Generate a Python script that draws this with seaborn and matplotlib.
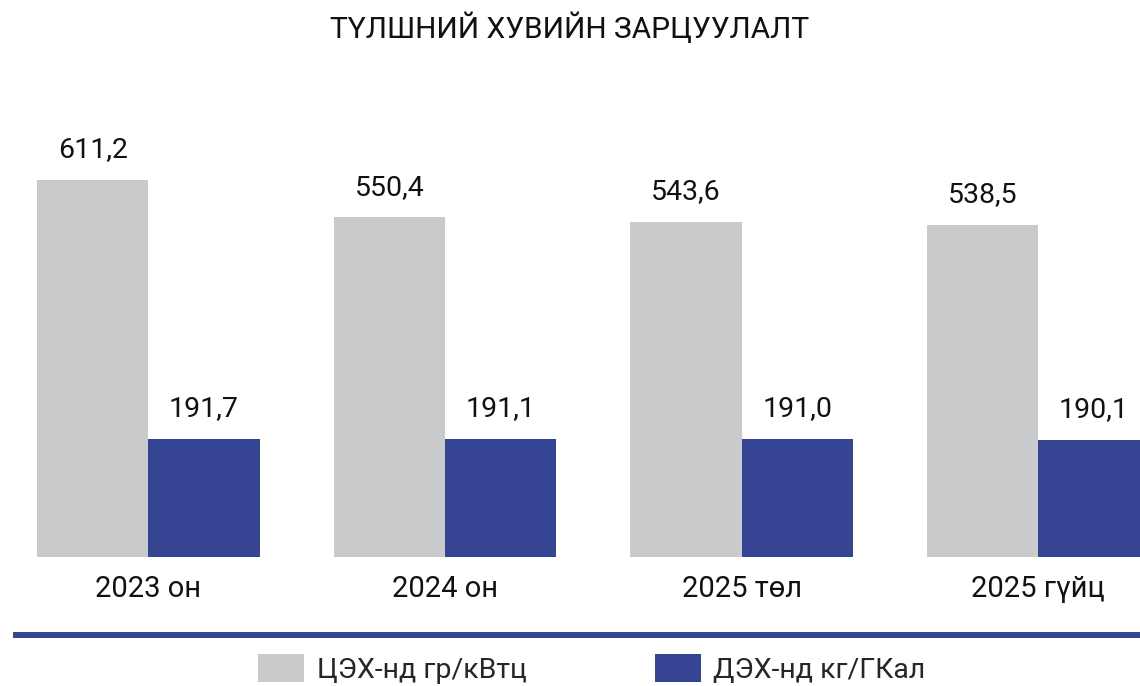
import matplotlib
matplotlib.use("Agg")
import matplotlib.pyplot as plt
import seaborn as sns
import pandas as pd
from matplotlib.lines import Line2D
from matplotlib.patches import Patch

categories = ["2023 он", "2024 он", "2025 төл", "2025 гүйц"]
series_names = ["ЦЭХ-нд гр/кВтц", "ДЭХ-нд кг/ГКал"]
chp_values = [611.2, 550.4, 543.6, 538.5]
dhp_values = [191.7, 191.1, 191.0, 190.1]
title = "ТҮЛШНИЙ ХУВИЙН ЗАРЦУУЛАЛТ"

gray = "#C9CACC"
navy = "#364494"

sns.set_theme(style="white")
plt.rcParams["font.family"] = ["Roboto", "DejaVu Sans"]

df = pd.DataFrame({
    "cat": categories * 2,
    "series": [series_names[0]] * 4 + [series_names[1]] * 4,
    "value": chp_values + dhp_values,
})

fig = plt.figure(figsize=(11.4, 6.86), dpi=100)
W, H = 1140, 686
bottom_px = 557
ax = fig.add_axes([0, (H - bottom_px) / H, 1, 0.617 * 800 / H])

sns.barplot(data=df, x="cat", y="value", hue="series", order=categories,
            hue_order=series_names, palette=[gray, navy], width=0.75,
            saturation=1, ax=ax, legend=False, errorbar=None,
            linewidth=0, edgecolor="none")

ax.set_xlim(-0.5, 3.343)
ax.set_ylim(0, 800)
ax.set_xlabel("")
ax.set_ylabel("")
ax.set_yticks([])
for s in ax.spines.values():
    s.set_visible(False)
ax.tick_params(axis="x", length=0, pad=13, labelsize=21, labelcolor="#111111")

for cont in ax.containers:
    labels = [f"{v:.1f}".replace(".", ",") for v in cont.datavalues]
    ax.bar_label(cont, labels=labels, padding=12, fontsize=20.5, color="#111111")

fig.text(0.5, 1 - 28 / H, title, ha="center", va="center", fontsize=21.5, color="#111111")

fig.add_artist(Line2D([13 / W, 1.0], [1 - 634.5 / H] * 2, color=navy, linewidth=4.3,
                      transform=fig.transFigure, solid_capstyle="butt"))

handles = [Patch(facecolor=gray, edgecolor="none"), Patch(facecolor=navy, edgecolor="none")]
fig.legend(handles, series_names, loc="center", bbox_to_anchor=(0.519, 1 - 669 / H),
           ncol=2, frameon=False, fontsize=20.5, handlelength=1.62, handleheight=1.1,
           handletextpad=0.43, columnspacing=4.5, borderaxespad=0, borderpad=0)

fig.savefig("out.png", dpi=100)
